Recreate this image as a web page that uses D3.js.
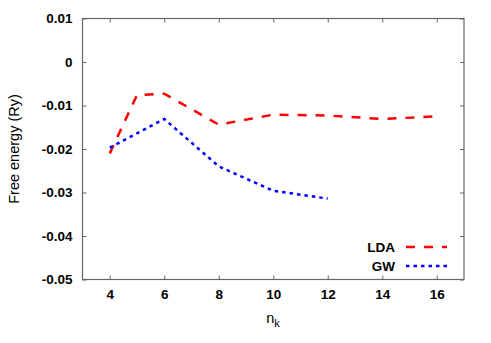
<!DOCTYPE html>
<html><head><meta charset="utf-8">
<script src="https://cdn.jsdelivr.net/npm/d3@7"></script>
<style>body{margin:0;background:#fff;} text{font-family:"Liberation Sans",Arial,sans-serif;}</style>
</head><body>
<svg id="c" width="491" height="343"></svg>
<script>
const ldaX = [4, 5, 6, 8, 10, 12, 14, 16];
const ldaY = [-0.021, -0.0076, -0.0073, -0.0144, -0.0121, -0.0123, -0.0131, -0.0125];
const gwX = [4, 6, 8, 10, 12];
const gwY = [-0.0197, -0.0131, -0.0240, -0.0296, -0.0314];
const xTicks = [4, 6, 8, 10, 12, 14, 16];
const yTicks = [0.01, 0, -0.01, -0.02, -0.03, -0.04, -0.05];
const seriesNames = ["LDA", "GW"];

const svg = d3.select("#c");
const L = 82.5, R = 464, T = 18.5, B = 279.5;
const x = d3.scaleLinear().domain([3, 17]).range([L, R]);
const y = d3.scaleLinear().domain([-0.05, 0.01]).range([B, T]);
const axisCol = "#666";

svg.append("rect").attr("x", L).attr("y", T).attr("width", R - L).attr("height", B - T)
  .attr("fill", "none").attr("stroke", axisCol).attr("stroke-width", 1.2);

const fmtY = d => d === 0 ? "0" : d3.format(".2f")(d).replace("−", "-");
const gx = svg.append("g").attr("transform", `translate(0,${B})`)
  .call(d3.axisBottom(x).tickValues(xTicks).tickSize(-4).tickPadding(10).tickFormat(d3.format("d")));
const gxt = svg.append("g").attr("transform", `translate(0,${T})`)
  .call(d3.axisTop(x).tickValues(xTicks).tickSize(-4).tickFormat(""));
const gy = svg.append("g").attr("transform", `translate(${L},0)`)
  .call(d3.axisLeft(y).tickValues(yTicks).tickSize(-4).tickPadding(10).tickFormat(fmtY));
const gyr = svg.append("g").attr("transform", `translate(${R},0)`)
  .call(d3.axisRight(y).tickValues(yTicks).tickSize(-4).tickFormat(""));
[gx, gxt, gy, gyr].forEach(g => {
  g.select(".domain").remove();
  g.selectAll(".tick line").attr("stroke", axisCol);
  g.selectAll("text").attr("fill", "#000").attr("font-size", 13.5).attr("font-weight", "bold")
    .attr("font-family", "Liberation Sans, Arial, sans-serif");
});

const line = d3.line().x(d => x(d[0])).y(d => y(d[1]));
const lda = ldaX.map((v, i) => [v, ldaY[i]]);
const gw = gwX.map((v, i) => [v, gwY[i]]);

svg.append("path").attr("d", line(lda)).attr("fill", "none").attr("stroke", "#ff0000")
  .attr("stroke-width", 2.5).attr("stroke-dasharray", "9,9");
svg.append("path").attr("d", line(gw)).attr("fill", "none").attr("stroke", "#0000ff")
  .attr("stroke-width", 2.5).attr("stroke-dasharray", "3.5,4");

const leg = [{name: seriesNames[0], col: "#ff0000", dash: "9,9", y: 247},
             {name: seriesNames[1], col: "#0000ff", dash: "3.5,4", y: 266}];
leg.forEach(l => {
  svg.append("text").attr("x", 395).attr("y", l.y + 5).attr("text-anchor", "end")
    .attr("font-size", 13.5).attr("font-weight", "bold").text(l.name);
  svg.append("line").attr("x1", 406).attr("x2", 447).attr("y1", l.y).attr("y2", l.y)
    .attr("stroke", l.col).attr("stroke-width", 2.5).attr("stroke-dasharray", l.dash);
});

svg.append("text").attr("transform", `translate(19,${(T + B) / 2}) rotate(-90)`)
  .attr("text-anchor", "middle").attr("font-size", 14.5).text("Free energy (Ry)");
const xt = svg.append("text").attr("x", 273).attr("y", 323).attr("text-anchor", "middle").attr("font-size", 14.5);
xt.append("tspan").text("n");
xt.append("tspan").attr("dy", 4).attr("font-size", 11).text("k");
</script>
</body></html>
